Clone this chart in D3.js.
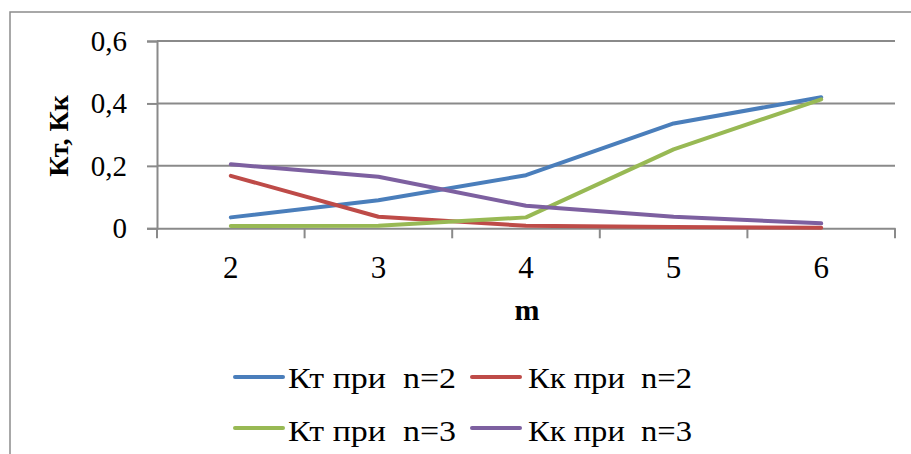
<!DOCTYPE html>
<html>
<head>
<meta charset="utf-8">
<script src="https://cdn.jsdelivr.net/npm/d3@7"></script>
<style>
  html, body { margin: 0; padding: 0; background: #fff; }
  svg { display: block; }
  svg text { font-family: 'Liberation Serif'; }
</style>
</head>
<body>
<svg id="chart" width="911" height="454"></svg>
<script>
// Values of m along the horizontal axis
const categories = ["2", "3", "4", "5", "6"];

// Coefficients for each n
const ktN2 = [0.035, 0.09, 0.17, 0.336, 0.42];
const kkN2 = [0.168, 0.037, 0.008, 0.004, 0.002];
const ktN3 = [0.007, 0.008, 0.035, 0.253, 0.413];
const kkN3 = [0.205, 0.165, 0.072, 0.037, 0.016];

const seriesNames = ["Кт при\u00a0 n=2", "Кк при\u00a0 n=2", "Кт при\u00a0 n=3", "Кк при\u00a0 n=3"];
const yTicks = [0, 0.2, 0.4, 0.6];

const series = [
  { name: seriesNames[0], values: ktN2, color: "#4a7ebb" },
  { name: seriesNames[1], values: kkN2, color: "#be4b48" },
  { name: seriesNames[2], values: ktN3, color: "#98b954" },
  { name: seriesNames[3], values: kkN3, color: "#7d60a0" }
];

const svg = d3.select("#chart");
const gridColor = "#8a8a8a";

// chart frame
svg.append("rect")
  .attr("x", 10).attr("y", 12)
  .attr("width", 920).attr("height", 460)
  .attr("fill", "none").attr("stroke", "#8c8c8c").attr("stroke-width", 1.5);

const plot = { left: 157, right: 895, top: 41, bottom: 228.3 };

const x = d3.scaleBand().domain(categories).range([plot.left, plot.right]).padding(0);
const y = d3.scaleLinear().domain([0, 0.6]).range([plot.bottom, plot.top]);
const cx = c => x(c) + x.bandwidth() / 2;

// horizontal gridlines
svg.append("g").selectAll("line")
  .data(yTicks.filter(t => t > 0))
  .join("line")
  .attr("x1", plot.left).attr("x2", plot.right)
  .attr("y1", d => y(d)).attr("y2", d => y(d))
  .attr("stroke", gridColor).attr("stroke-width", 2);

// y axis
const yAxis = svg.append("g")
  .attr("transform", `translate(${plot.left},0)`)
  .call(d3.axisLeft(y).tickValues(yTicks).tickSize(10).tickPadding(20)
    .tickFormat(d => d === 0 ? "0" : d3.format(".1f")(d).replace(".", ",")));
yAxis.attr("font-family", null).attr("font-size", null);
yAxis.select(".domain").attr("stroke", gridColor).attr("stroke-width", 2);
yAxis.selectAll(".tick line").attr("stroke", gridColor).attr("stroke-width", 2);
yAxis.selectAll(".tick text")
  .style("font-size", "29px").attr("fill", "#000");

// x axis
const xAxis = svg.append("g")
  .attr("transform", `translate(0,${plot.bottom})`)
  .call(d3.axisBottom(x).tickSize(0).tickPadding(0));
xAxis.attr("font-family", null).attr("font-size", null);
xAxis.select(".domain").attr("stroke", gridColor).attr("stroke-width", 2);
xAxis.selectAll(".tick text")
  .style("font-size", "31px").attr("fill", "#000")
  .attr("y", 50).attr("dy", 0);
// tick marks at band boundaries
xAxis.append("g").selectAll("line")
  .data(categories.map(c => x(c)).concat([plot.right]))
  .join("line")
  .attr("x1", d => d).attr("x2", d => d)
  .attr("y1", 0).attr("y2", 10)
  .attr("stroke", gridColor).attr("stroke-width", 2);

// lines
const line = d3.line()
  .x((d, i) => cx(categories[i]))
  .y(d => y(d));

svg.append("g").selectAll("path")
  .data(series)
  .join("path")
  .attr("d", d => line(d.values))
  .attr("fill", "none")
  .attr("stroke", d => d.color)
  .attr("stroke-width", 4)
  .attr("stroke-linejoin", "round")
  .attr("stroke-linecap", "round");

// axis titles
svg.append("text")
  .attr("transform", "translate(68,136) rotate(-90)")
  .attr("text-anchor", "middle")
  .style("font-weight", "bold").style("font-size", "28px")
  .text("Кт, Кк");

svg.append("text")
  .attr("x", 527).attr("y", 320)
  .attr("text-anchor", "middle")
  .style("font-weight", "bold").style("font-size", "30px")
  .text("m");

// legend
const legendPos = [
  { lx: 235, ly: 377, tx: 288, ty: 388, w: 168 },
  { lx: 472, ly: 377, tx: 528, ty: 388, w: 164 },
  { lx: 235, ly: 428, tx: 288, ty: 441, w: 168 },
  { lx: 472, ly: 428, tx: 528, ty: 441, w: 164 }
];
const legend = svg.append("g").selectAll("g")
  .data(series)
  .join("g");
legend.append("line")
  .attr("x1", (d, i) => legendPos[i].lx)
  .attr("x2", (d, i) => legendPos[i].lx + 48)
  .attr("y1", (d, i) => legendPos[i].ly)
  .attr("y2", (d, i) => legendPos[i].ly)
  .attr("stroke", d => d.color).attr("stroke-width", 4)
  .attr("stroke-linecap", "round");
legend.append("text")
  .attr("x", (d, i) => legendPos[i].tx)
  .attr("y", (d, i) => legendPos[i].ty)
  .attr("textLength", (d, i) => legendPos[i].w)
  .attr("lengthAdjust", "spacingAndGlyphs")
  .style("font-size", "29px")
  .text(d => d.name);
</script>
</body>
</html>
